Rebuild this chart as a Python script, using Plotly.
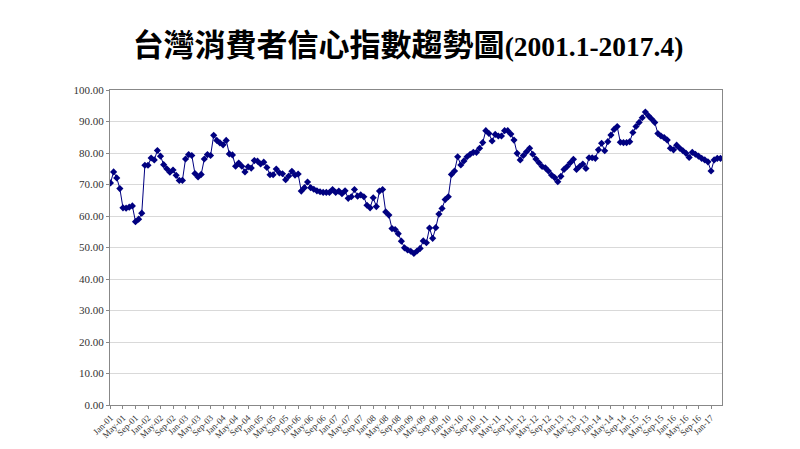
import plotly.graph_objects as go

months = ["Jan", "Feb", "Mar", "Apr", "May", "Jun", "Jul", "Aug", "Sep", "Oct", "Nov", "Dec"]
periods = [f"{months[m]}-{y % 100:02d}" for y in range(2001, 2018) for m in range(12)][:196]

cci = [
    70.5, 74.0, 72.1, 68.7, 62.6, 62.5, 62.8, 63.2, 58.2, 59.0, 60.9, 76.1,
    76.1, 78.4, 77.8, 80.8, 79.0, 76.3, 75.0, 73.9, 74.6, 72.9, 71.3, 71.3,
    78.1, 79.5, 79.2, 73.5, 72.4, 73.2, 78.1, 79.5, 79.2, 85.6, 84.0, 83.2,
    82.6, 84.0, 79.7, 79.4, 75.8, 76.8, 75.8, 74.0, 75.6, 75.2, 77.6, 77.4,
    76.5, 77.1, 75.4, 73.1, 73.1, 74.9, 73.7, 73.4, 71.5, 72.7, 74.2, 73.0,
    73.3, 67.9, 69.0, 70.8, 69.0, 68.5, 68.0, 67.7, 67.5, 67.5, 67.5, 68.4,
    67.5, 67.9, 67.1, 68.0, 65.6, 66.1, 68.4, 66.3, 66.7, 66.1, 63.4, 62.6,
    65.8, 63.0, 67.9, 68.4, 61.3, 60.3, 56.0, 55.7, 54.4, 52.0, 49.9, 49.2,
    48.8, 48.1, 48.9, 49.7, 52.1, 51.5, 56.2, 52.9, 56.3, 60.6, 62.4, 65.2,
    66.1, 73.2, 74.3, 78.8, 76.2, 77.5, 78.8, 79.6, 80.2, 80.2, 81.5, 83.3,
    87.1, 86.2, 83.8, 85.9, 85.4, 85.4, 87.1, 87.1, 86.0, 84.1, 79.9, 77.8,
    79.2, 80.4, 81.5, 79.6, 78.1, 76.9, 75.7, 75.3, 74.3, 73.0, 72.2, 70.9,
    72.6, 74.8, 75.7, 76.9, 78.0, 74.8, 75.7, 76.5, 75.1, 78.5, 78.5, 78.3,
    81.0, 83.1, 80.7, 83.6, 85.7, 87.5, 88.4, 83.4, 83.3, 83.3, 83.6, 86.5,
    88.4, 89.7, 91.2, 93.0, 91.8, 90.8, 89.7, 86.2, 85.4, 84.9, 84.1, 81.5,
    81.0, 82.5, 81.5, 80.7, 79.9, 78.6, 80.2, 79.6, 79.0, 78.3, 77.8, 77.2,
    74.3, 77.8, 78.3, 78.3,
]

tick_idx = list(range(0, len(periods), 4))
tick_text = [periods[i] for i in tick_idx]
y_ticks = [i * 10 for i in range(11)]

x = list(range(len(cci)))

fig = go.Figure()
fig.add_trace(go.Scatter(
    x=x, y=cci, mode="lines+markers",
    line=dict(color="#000080", width=1),
    marker=dict(symbol="diamond", size=5.5, color="#000080"),
    hoverinfo="skip",
))

serif = "Liberation Serif, Times New Roman, serif"
title_text = ('<b><span style="font-size:31px">台灣消費者信心指數趨勢圖</span>'
              '<span style="font-size:27.5px">(2001.1-2017.4)</span></b>')
fig.update_layout(
    width=800, height=449,
    margin=dict(l=102, r=86, t=82, b=52),
    paper_bgcolor="white", plot_bgcolor="white",
    showlegend=False,
    title=dict(
        text=title_text,
        x=0.5, xanchor="center", y=0.915, yanchor="middle",
        font=dict(family="Liberation Serif, Noto Sans CJK TC", size=27, color="black"),
    ),
    xaxis=dict(
        range=[-0.15, 195.5],
        tickmode="array", tickvals=tick_idx, ticktext=tick_text,
        tickangle=-45,
        tickfont=dict(family=serif, size=9, color="#333333"),
        ticks="outside", ticklen=3, tickcolor="#888888",
        showgrid=False, zeroline=False,
        showline=True, linecolor="#888888", linewidth=1,
        mirror=True,
    ),
    yaxis=dict(
        range=[0, 100],
        tickmode="array", tickvals=y_ticks,
        tickformat=".2f",
        tickfont=dict(family=serif, size=11, color="#333333"),
        ticks="outside", ticklen=3, tickcolor="#888888",
        showgrid=True, gridcolor="#d9d9d9", gridwidth=1,
        zeroline=False,
        showline=True, linecolor="#888888", linewidth=1,
        mirror=True,
    ),
)

fig.write_html("out.html")
